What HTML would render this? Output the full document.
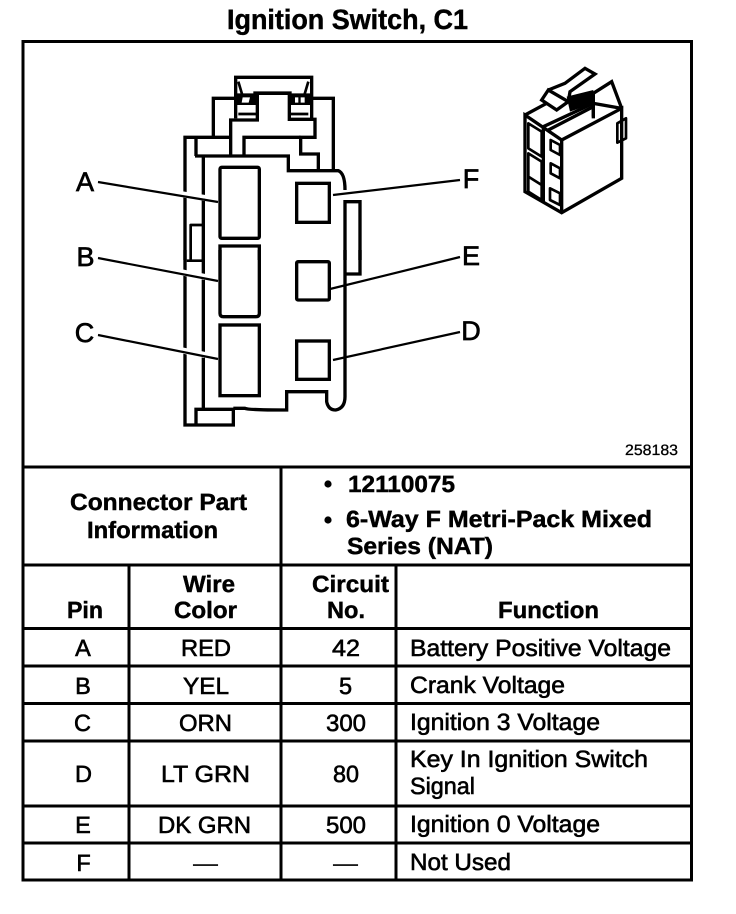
<!DOCTYPE html>
<html><head><meta charset="utf-8"><style>
html,body{margin:0;padding:0;background:#fff;width:736px;height:914px;overflow:hidden}
svg{display:block}
text{font-family:"Liberation Sans",Arial,sans-serif;fill:#000;stroke:#000;stroke-width:.6;text-rendering:geometricPrecision}
.b{font-weight:bold;font-size:23.5px;stroke-width:.45}
.r{font-size:23.5px}
.c{text-anchor:middle}
.l{font-size:27px;stroke-width:.7;text-anchor:middle}
.ln{stroke:#000;stroke-width:3;fill:none}
.t{stroke:#000;stroke-width:10;fill:none;stroke-linejoin:miter}
.m{stroke:#000;stroke-width:8;fill:none;stroke-linejoin:round}
</style></head><body>
<svg width="736" height="914" viewBox="0 0 736 914" xmlns="http://www.w3.org/2000/svg">
<rect width="736" height="914" fill="#fff"/>
<text class="b" x="227" y="29" style="font-size:28px" textLength="241" lengthAdjust="spacingAndGlyphs">Ignition Switch, C1</text>

<!-- frame and grid -->
<g class="ln">
<rect x="23" y="41.5" width="668.5" height="838.5"/>
<path d="M23 467H691.5M23 565H691.5M23 628.5H691.5M23 666H691.5M23 703.5H691.5M23 741H691.5M23 806H691.5M23 843H691.5"/>
<path d="M281 467V880M129 565V880M396 565V880"/>
</g>

<!-- connector upper -->
<g transform="translate(170,60) scale(.33333)">
<path class="t" d="M197 175V52H425V175"/>
<path class="m" d="M205 65L216 102M415 65L404 102M250 98H365"/>
<path class="t" d="M130 230V115H200M420 115H490V330"/>
<path class="t" d="M182 288V180H262V100H358V178H435V232H392V282H445V330"/>
<path class="t" d="M222 285V232H392"/>
<path class="t" d="M75 288H222H355V332H505Q525 340 525 390"/>
<path class="t" d="M45 600V232H185M78 235V288"/>
<path class="t" d="M100 290V600"/>
<path class="m" d="M62 600V495H100"/>
<path class="t" d="M525 420V600M525 425H570V600"/>
<path d="M200 100H262V135H200ZM358 100H420V135H358Z" fill="#000"/>
<path d="M218 112H240L236 128H215ZM375 112H385V128H375ZM392 112H404V128H392Z" fill="#fff"/>
<path class="m" d="M205 162H262M360 162H415"/>
<rect class="t" x="150" y="322" width="118" height="213" rx="5"/>
<rect class="t" x="380" y="370" width="98" height="117"/>
<path class="t" d="M150 600V558H268V600"/>
</g>
<!-- connector lower -->
<g transform="translate(170,250) scale(.33333)">
<path class="t" d="M45 0V525H190V478H78V525"/>
<path class="t" d="M100 0V475"/>
<path class="m" d="M50 32H100"/>
<path class="t" d="M190 475H225Q235 480 350 480V425H470V455Q475 480 497 480Q525 475 525 440V0"/>
<path class="t" d="M525 72H570V0"/>
<path class="t" d="M150 0V190Q150 200 160 200H258Q268 200 268 190V0"/>
<rect class="t" x="150" y="225" width="118" height="212"/>
<rect class="t" x="380" y="35" width="98" height="115" rx="4"/>
<rect class="t" x="380" y="273" width="98" height="115"/>
</g>

<!-- leaders -->
<g stroke="#fff" stroke-width="6" fill="none">
<path d="M180 194L205 198M180 272L205 277M180 350L205 355"/>
</g>
<g stroke="#000" stroke-width="2.2" fill="none">
<path d="M98 182L218 202"/>
<path d="M98 258L218 281"/>
<path d="M98 335L218 359"/>
<path d="M333 195L460 180"/>
<path d="M330 289L460 257"/>
<path d="M333 360L460 332"/>
</g>
<text class="l" x="85" y="191">A</text>
<text class="l" x="85.5" y="266">B</text>
<text class="l" x="84.5" y="342">C</text>
<text class="l" x="471" y="188">F</text>
<text class="l" x="471" y="265">E</text>
<text class="l" x="471" y="340">D</text>

<!-- thumbnail -->
<g transform="translate(510,60) scale(.33333)">
<path class="t" d="M155 240L335 145V355L155 458L45 395V165L155 240Z"/>
<path class="t" d="M100 200V425M155 240V458"/>
<path class="t" d="M45 165L110 130M100 200L250 130L335 145"/>
<path class="t" d="M115 210L250 140V175"/>
<path class="t" d="M250 100L305 65L335 145M250 100V170"/>
<path class="t" d="M95 120L115 90L175 125L140 150L95 120Z"/>
<path class="t" d="M115 90L165 70L225 25L255 42L180 95L175 125"/>
<path d="M170 110L250 90V130L180 155Z" fill="#000"/>
<path class="m" d="M55 190L95 215V290L55 265ZM55 280L95 305V375L55 350ZM55 345V395L95 420V375"/>
<path class="m" d="M122 240L150 255V285L122 270ZM122 310L150 325V355L122 340ZM120 385L150 400V435L120 420Z"/>
<path class="m" d="M322 190L348 175V235L322 248Z"/>
<path class="m" d="M335 195V235"/>
</g>

<text x="625" y="455" style="font-size:15px;stroke-width:.3" textLength="53" lengthAdjust="spacingAndGlyphs">258183</text>

<!-- part info -->
<text class="b" x="70" y="510" textLength="177" lengthAdjust="spacingAndGlyphs">Connector Part</text>
<text class="b" x="87" y="538" textLength="131" lengthAdjust="spacingAndGlyphs">Information</text>
<circle cx="328" cy="484" r="3.6"/>
<circle cx="328" cy="520" r="3.6"/>
<text class="b" x="348" y="492" textLength="107" lengthAdjust="spacingAndGlyphs">12110075</text>
<text class="b" x="346" y="527" textLength="306" lengthAdjust="spacingAndGlyphs">6-Way F Metri-Pack Mixed</text>
<text class="b" x="347" y="554" textLength="146" lengthAdjust="spacingAndGlyphs">Series (NAT)</text>

<!-- headers -->
<text class="b" x="67" y="618" textLength="36" lengthAdjust="spacingAndGlyphs">Pin</text>
<text class="b" x="183" y="592" textLength="52" lengthAdjust="spacingAndGlyphs">Wire</text>
<text class="b" x="174" y="618" textLength="63" lengthAdjust="spacingAndGlyphs">Color</text>
<text class="b" x="312" y="592" textLength="77" lengthAdjust="spacingAndGlyphs">Circuit</text>
<text class="b" x="327" y="618" textLength="38" lengthAdjust="spacingAndGlyphs">No.</text>
<text class="b" x="498" y="618" textLength="101" lengthAdjust="spacingAndGlyphs">Function</text>

<!-- rows -->
<text class="r c" x="83" y="656">A</text>
<text class="r" x="181" y="656" textLength="50" lengthAdjust="spacingAndGlyphs">RED</text>
<text class="r" x="332" y="656" textLength="28" lengthAdjust="spacingAndGlyphs">42</text>
<text class="r" x="410" y="656" textLength="261" lengthAdjust="spacingAndGlyphs">Battery Positive Voltage</text>

<text class="r c" x="83" y="694">B</text>
<text class="r" x="183" y="694" textLength="46" lengthAdjust="spacingAndGlyphs">YEL</text>
<text class="r c" x="345.5" y="694">5</text>
<text class="r" x="410" y="693" textLength="155" lengthAdjust="spacingAndGlyphs">Crank Voltage</text>

<text class="r c" x="82.5" y="731">C</text>
<text class="r" x="179" y="731" textLength="53" lengthAdjust="spacingAndGlyphs">ORN</text>
<text class="r" x="326" y="731" textLength="40" lengthAdjust="spacingAndGlyphs">300</text>
<text class="r" x="410" y="730" textLength="190" lengthAdjust="spacingAndGlyphs">Ignition 3 Voltage</text>

<text class="r c" x="83.5" y="782">D</text>
<text class="r" x="161" y="782" textLength="89" lengthAdjust="spacingAndGlyphs">LT GRN</text>
<text class="r" x="333" y="782" textLength="26" lengthAdjust="spacingAndGlyphs">80</text>
<text class="r" x="410" y="767" textLength="238" lengthAdjust="spacingAndGlyphs">Key In Ignition Switch</text>
<text class="r" x="410" y="794" textLength="65" lengthAdjust="spacingAndGlyphs">Signal</text>

<text class="r c" x="83" y="833">E</text>
<text class="r" x="158" y="833" textLength="93" lengthAdjust="spacingAndGlyphs">DK GRN</text>
<text class="r" x="326" y="833" textLength="40" lengthAdjust="spacingAndGlyphs">500</text>
<text class="r" x="410" y="832" textLength="190" lengthAdjust="spacingAndGlyphs">Ignition 0 Voltage</text>

<text class="r c" x="83.5" y="871">F</text>
<text class="r" x="193" y="871" textLength="25" lengthAdjust="spacingAndGlyphs" style="stroke-width:.1">—</text>
<text class="r" x="333" y="871" textLength="25" lengthAdjust="spacingAndGlyphs" style="stroke-width:.1">—</text>
<text class="r" x="410" y="870" textLength="101" lengthAdjust="spacingAndGlyphs">Not Used</text>
</svg>
</body></html>
